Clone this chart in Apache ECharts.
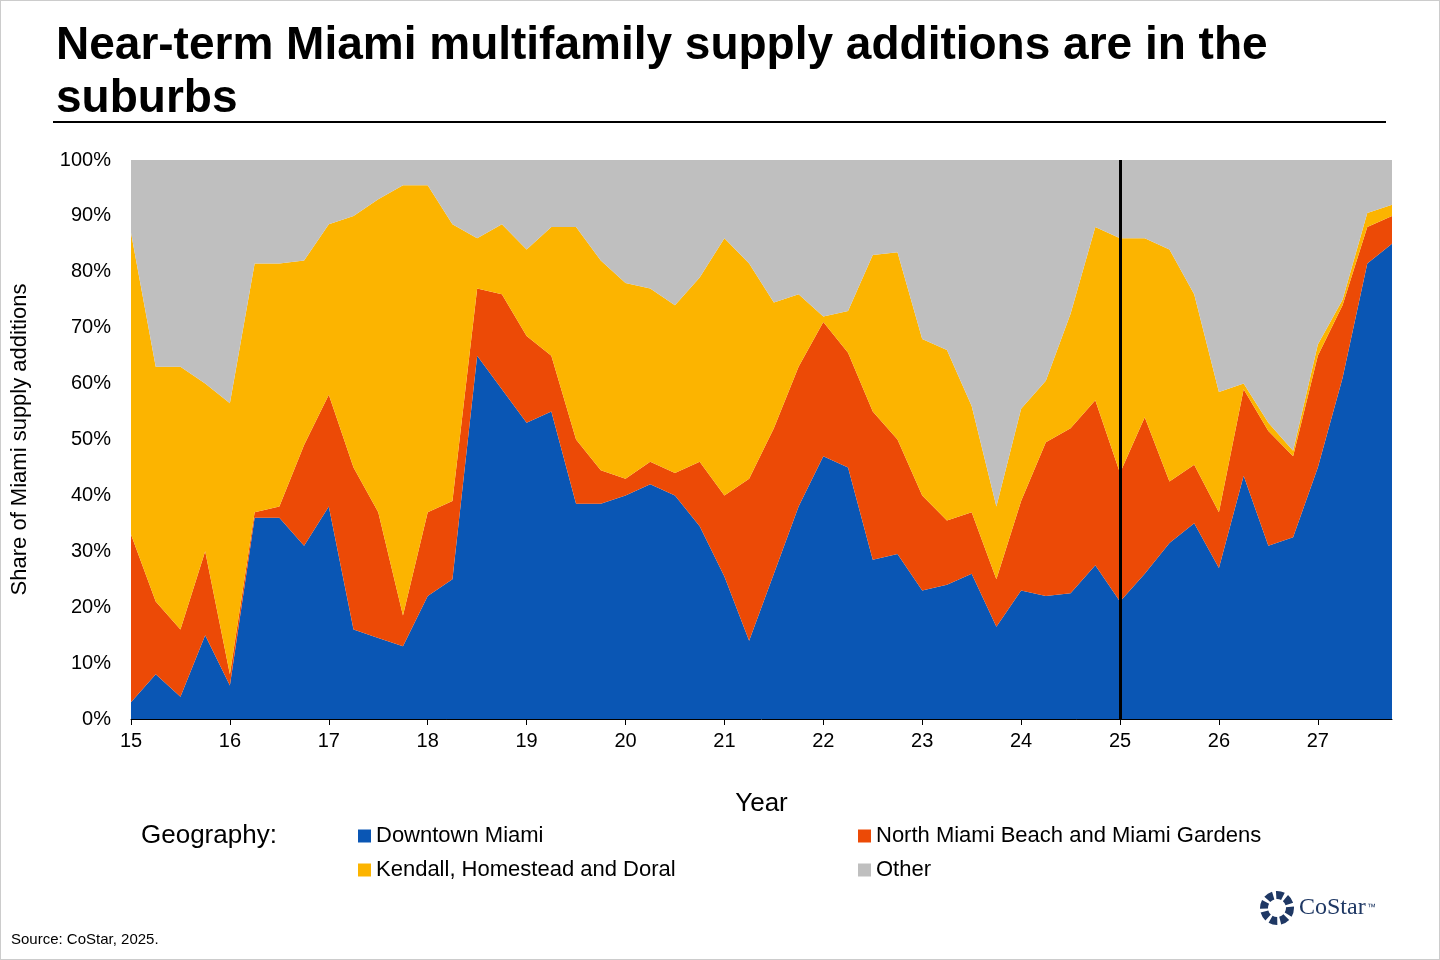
<!DOCTYPE html>
<html><head><meta charset="utf-8">
<script src="https://cdn.jsdelivr.net/npm/echarts@6/dist/echarts.min.js"></script>
<style>body{margin:0}#c{width:1440px;height:960px;box-sizing:border-box;border:1px solid #ccc}</style>
</head><body><div id="c"></div>
<script>
// quarters 2015Q1 .. 2027Q4, x in years since 2000
const quarters = ['15','15.25','15.5','15.75','16','16.25','16.5','16.75','17','17.25','17.5','17.75','18','18.25','18.5','18.75','19','19.25','19.5','19.75','20','20.25','20.5','20.75','21','21.25','21.5','21.75','22','22.25','22.5','22.75','23','23.25','23.5','23.75','24','24.25','24.5','24.75','25','25.25','25.5','25.75','26','26.25','26.5','26.75','27','27.25','27.5','27.75']
const downtown = [3,8,4,15,6,36,36,31,38,16,14.5,13,22,25,65,59,53,55,38.5,38.5,40,42,40,34.5,25.5,14,26,38,47,45,28.5,29.5,23,24,26,16.5,23,22,22.5,27.5,21,26,31.5,35,27,43.5,31,32.5,45,61,81.5,85]
const northBeach = [30,13,12,15,2,1,2,18,20,29,22.5,5.5,15,14,12,17,15.5,10,11.5,6,3,4,4,11.5,14.5,29,26,25,24,20.5,26.5,20.5,17,11.5,11,8.5,16,27.5,29.5,29.5,23,28,11,10.5,10,15.5,20.5,14.5,20,13,6.5,5]
const kendall = [54,42,47,30,48.5,44.5,43.5,33,30.5,45,56,77,58.5,49.5,9,12.5,15.5,23,38,37.5,35,31,30,33,46,38.5,22.5,13,1,7.5,28,33.5,28,30.5,19,13,16.5,11,20.5,31,42,32,41.5,30.5,21.5,1,1.5,1,2,1,2.5,2]
const other = [13,37,37,40,43.5,18.5,18.5,18,11.5,10,7,4.5,4.5,11.5,14,11.5,16,12,12,18,22,23,26,21,14,18.5,25.5,24,28,27,17,16.5,32,34,44,62,44.5,39.5,27.5,12,14,14,16,24,41.5,40,47,52,33,25,9.5,8]
const names = ['Downtown Miami','North Miami Beach and Miami Gardens','Kendall, Homestead and Doral','Other']
const colors = ['#0a56b4','#ec4a06','#fcb400','#bfbfbf']
const F = 'Liberation Sans, Arial, sans-serif'

const chart = echarts.init(document.getElementById('c'))
const mk = (name, vals, i) => ({
  name, type:'line', stack:'s', symbol:'none', smooth:false,
  lineStyle:{width:0}, areaStyle:{color:colors[i], opacity:1}, color:colors[i],
  data: vals,
  markLine: i===3 ? {symbol:'none', silent:true, label:{show:false},
    lineStyle:{color:'#000', width:3, type:'solid'}, data:[{xAxis:'25'}]} : undefined
})
chart.setOption({
  animation:false,
  title:{text:'Near-term Miami multifamily supply additions are in the\nsuburbs', left:50, top:14,
    textStyle:{fontFamily:F, fontSize:46, fontWeight:'bold', color:'#000', lineHeight:53}},
  graphic:[
    {type:'line', shape:{x1:52,y1:121,x2:1385,y2:121}, style:{stroke:'#000', lineWidth:2}},
    {type:'text', left:140, top:822, style:{text:'Geography:', font:'26px '+F, fill:'#000'}},
    {type:'text', left:10, top:931, style:{text:'Source: CoStar, 2025.', font:'15px '+F, fill:'#000'}},
    {type:'text', left:1298, top:895, style:{text:'CoStar', font:'24px serif', fill:'#1f3864'}},
    {type:'text', left:1366, top:902, style:{text:'™', font:'9px '+F, fill:'#1f3864'}},
    {type:'circle', shape:{cx:1276,cy:907,r:13}, style:{fill:'none', stroke:'#1f3864', lineWidth:8, lineDash:[7,3]}}
  ],
  legend:[
    {data:[names[0],names[2]], orient:'vertical', left:352, top:819, itemWidth:13, itemHeight:13, itemGap:12,
      icon:'rect', textStyle:{fontFamily:F, fontSize:22, color:'#000'}},
    {data:[names[1],names[3]], orient:'vertical', left:852, top:819, itemWidth:13, itemHeight:13, itemGap:12,
      icon:'rect', textStyle:{fontFamily:F, fontSize:22, color:'#000'}}
  ],
  grid:{left:130, right:47, top:159, bottom:240},
  xAxis:{type:'category', data:quarters, boundaryGap:false, name:'Year', nameLocation:'middle', nameGap:72,
    nameTextStyle:{fontFamily:F, fontSize:26, color:'#000'},
    axisLine:{lineStyle:{color:'#000'}}, axisTick:{show:true, interval:3, length:6, lineStyle:{color:'#000'}},
    axisLabel:{interval:3, fontFamily:F, fontSize:20, color:'#000', margin:12}, splitLine:{show:false}},
  yAxis:{type:'value', min:0, max:100, interval:10, name:'Share of Miami supply additions',
    nameLocation:'middle', nameGap:100, nameTextStyle:{fontFamily:F, fontSize:22, color:'#000'},
    axisLine:{show:false}, axisTick:{show:false},
    axisLabel:{fontFamily:F, fontSize:20, color:'#000', formatter:'{value}%', margin:20}, splitLine:{show:false}},
  series:[mk(names[0],downtown,0), mk(names[1],northBeach,1), mk(names[2],kendall,2), mk(names[3],other,3)]
})
</script></body></html>
